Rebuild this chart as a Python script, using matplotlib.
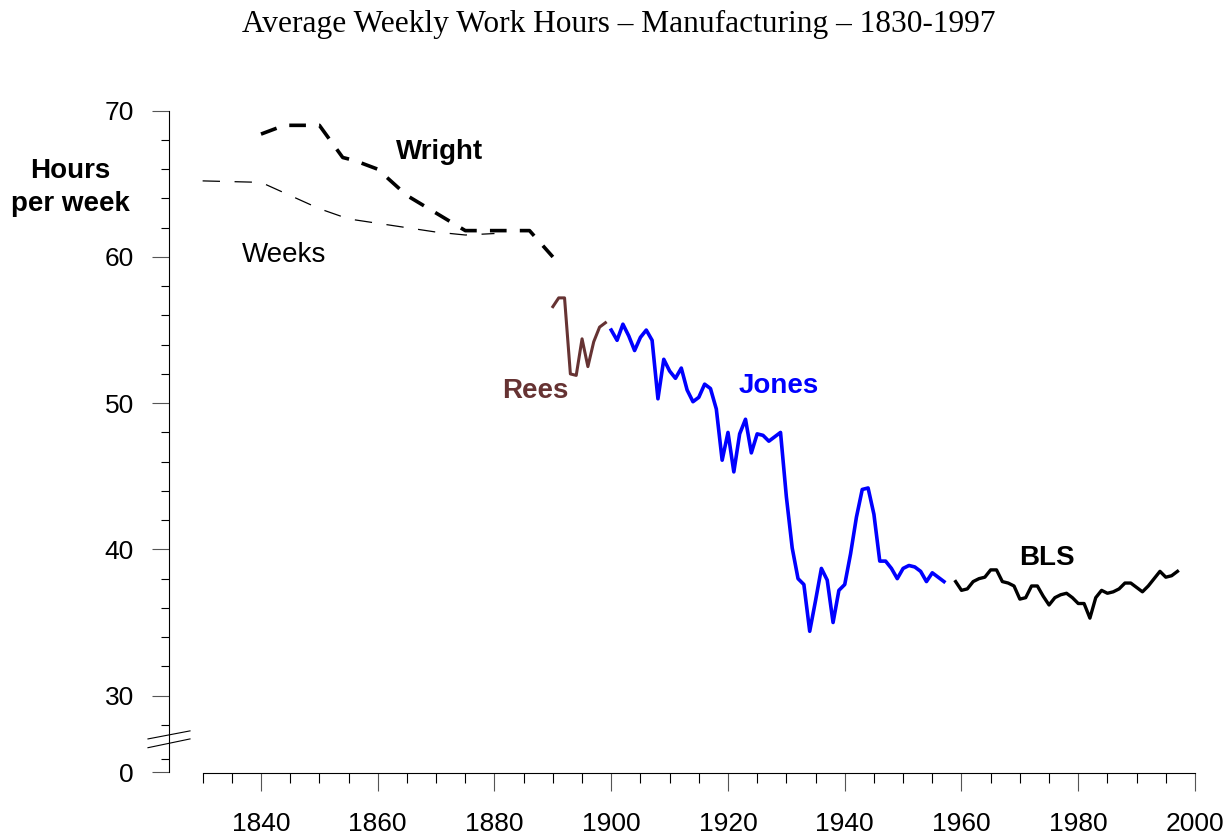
import matplotlib
matplotlib.use("Agg")
import matplotlib.pyplot as plt

plt.rcParams['font.family'] = ['Liberation Sans', 'DejaVu Sans']
plt.rcParams['lines.scale_dashes'] = False

# Wright (thick dashed)
wright_years = [1840, 1844, 1850, 1854, 1856, 1860, 1865, 1870, 1875, 1880, 1886, 1890]
wright_hours = [68.4, 69.0, 69.0, 66.8, 66.6, 66.0, 64.2, 63.0, 61.8, 61.8, 61.8, 60.0]

# Weeks (thin dashed)
weeks_years = [1830, 1840, 1850, 1855, 1860, 1870, 1875, 1880]
weeks_hours = [65.2, 65.1, 63.3, 62.6, 62.3, 61.7, 61.5, 61.6]

# Rees
rees_years = list(range(1890, 1900))
rees_hours = [56.6, 57.2, 57.2, 52.0, 51.9, 54.4, 52.5, 54.2, 55.2, 55.5]

# Jones
jones_years = list(range(1900, 1958))
jones_hours = [55.0, 54.3, 55.4, 54.6, 53.6, 54.5, 55.0, 54.3, 50.3, 53.0,
               52.2, 51.7, 52.4, 50.9, 50.1, 50.4, 51.3, 51.0, 49.6, 46.1,
               48.0, 45.3, 47.9, 48.9, 46.6, 47.9, 47.8, 47.4, 47.7, 48.0,
               43.6, 40.1, 38.0, 37.6, 34.4, 36.5, 38.7, 37.9, 35.0, 37.2,
               37.6, 39.7, 42.2, 44.1, 44.2, 42.4, 39.2, 39.2, 38.7, 38.0,
               38.7, 38.9, 38.8, 38.5, 37.8, 38.4, 38.1, 37.8]

# BLS
bls_years = list(range(1959, 1998))
bls_hours = [37.8, 37.2, 37.3, 37.8, 38.0, 38.1, 38.6, 38.6, 37.8, 37.7,
             37.5, 36.6, 36.7, 37.5, 37.5, 36.8, 36.2, 36.7, 36.9, 37.0,
             36.7, 36.3, 36.3, 35.3, 36.7, 37.2, 37.0, 37.1, 37.3, 37.7,
             37.7, 37.4, 37.1, 37.5, 38.0, 38.5, 38.1, 38.2, 38.5]

y_major = [24.76, 30, 40, 50, 60, 70]
y_major_labels = ['0', '30', '40', '50', '60', '70']
y_minor = [25.67, 28, 32, 34, 36, 38, 42, 44, 46, 48, 52, 54, 56, 58, 62, 64, 66, 68]
x_major = list(range(1840, 2001, 20))
x_minor = [y for y in range(1830, 2001, 5) if y not in x_major]

fig = plt.figure(figsize=(12.29, 8.39), dpi=100)
ax = fig.add_axes([169 / 1229, 66 / 839, 1031 / 1229, 668 / 839])
ax.set_xlim(1824.24, 2000.86)
ax.set_ylim(24.71, 70.39)

ax.plot(weeks_years, weeks_hours, color='black', lw=0.9, dashes=(12.5, 10.5))
ax.plot(wright_years, wright_hours, color='black', lw=2.6, dashes=(12, 9.5))
ax.plot(rees_years, rees_hours, color='#663333', lw=2.2)
ax.plot(jones_years, jones_hours, color='#0000FF', lw=2.6)
ax.plot(bls_years, bls_hours, color='black', lw=2.4)

for s in ['top', 'right']:
    ax.spines[s].set_visible(False)
ax.spines['left'].set_bounds(24.76, 70)
ax.spines['bottom'].set_bounds(1830, 2000)
ax.spines['left'].set_linewidth(0.8)
ax.spines['bottom'].set_linewidth(0.8)

ax.set_yticks(y_major)
ax.set_yticklabels(y_major_labels)
ax.set_yticks(y_minor, minor=True)
ax.set_xticks(x_major)
ax.set_xticks(x_minor, minor=True)
ax.tick_params(axis='y', which='major', length=12.2, width=0.8, color='#555555',
               labelsize=19, pad=13)
ax.tick_params(axis='y', which='minor', length=5.8, width=0.8, color='black')
ax.tick_params(axis='x', which='major', length=13, width=0.8, color='#555555',
               labelsize=19, pad=15)
ax.tick_params(axis='x', which='minor', length=7.2, width=0.8, color='black')

# axis break marks
for y0, y1 in [(27.04, 27.59), (26.44, 27.04)]:
    ax.plot([1820.64, 1827.84], [y0, y1], color='black', lw=0.8, clip_on=False)

ax.text(1870.66, 66.68, 'Wright', fontsize=20, fontweight='bold', ha='center', va='baseline')
ax.text(1843.91, 59.63, 'Weeks', fontsize=20, ha='center', va='baseline')
ax.text(1887.03, 50.33, 'Rees', fontsize=20, fontweight='bold', color='#663333',
        ha='center', va='baseline')
ax.text(1928.74, 50.68, 'Jones', fontsize=20, fontweight='bold', color='#0000FF',
        ha='center', va='baseline')
ax.text(1974.6, 38.94, 'BLS', fontsize=20, fontweight='bold', ha='center', va='baseline')

fig.text(70 / 1229, (839 - 178.3) / 839, 'Hours', fontsize=20, fontweight='bold',
         ha='center', va='baseline')
fig.text(70 / 1229, (839 - 211) / 839, 'per week', fontsize=20, fontweight='bold',
         ha='center', va='baseline')
fig.text(619 / 1229, (839 - 32.3) / 839,
         'Average Weekly Work Hours \u2013 Manufacturing \u2013 1830-1997',
         fontsize=22.6, family=['Liberation Serif', 'DejaVu Serif'], ha='center', va='baseline')

fig.savefig('out.png', dpi=100)
